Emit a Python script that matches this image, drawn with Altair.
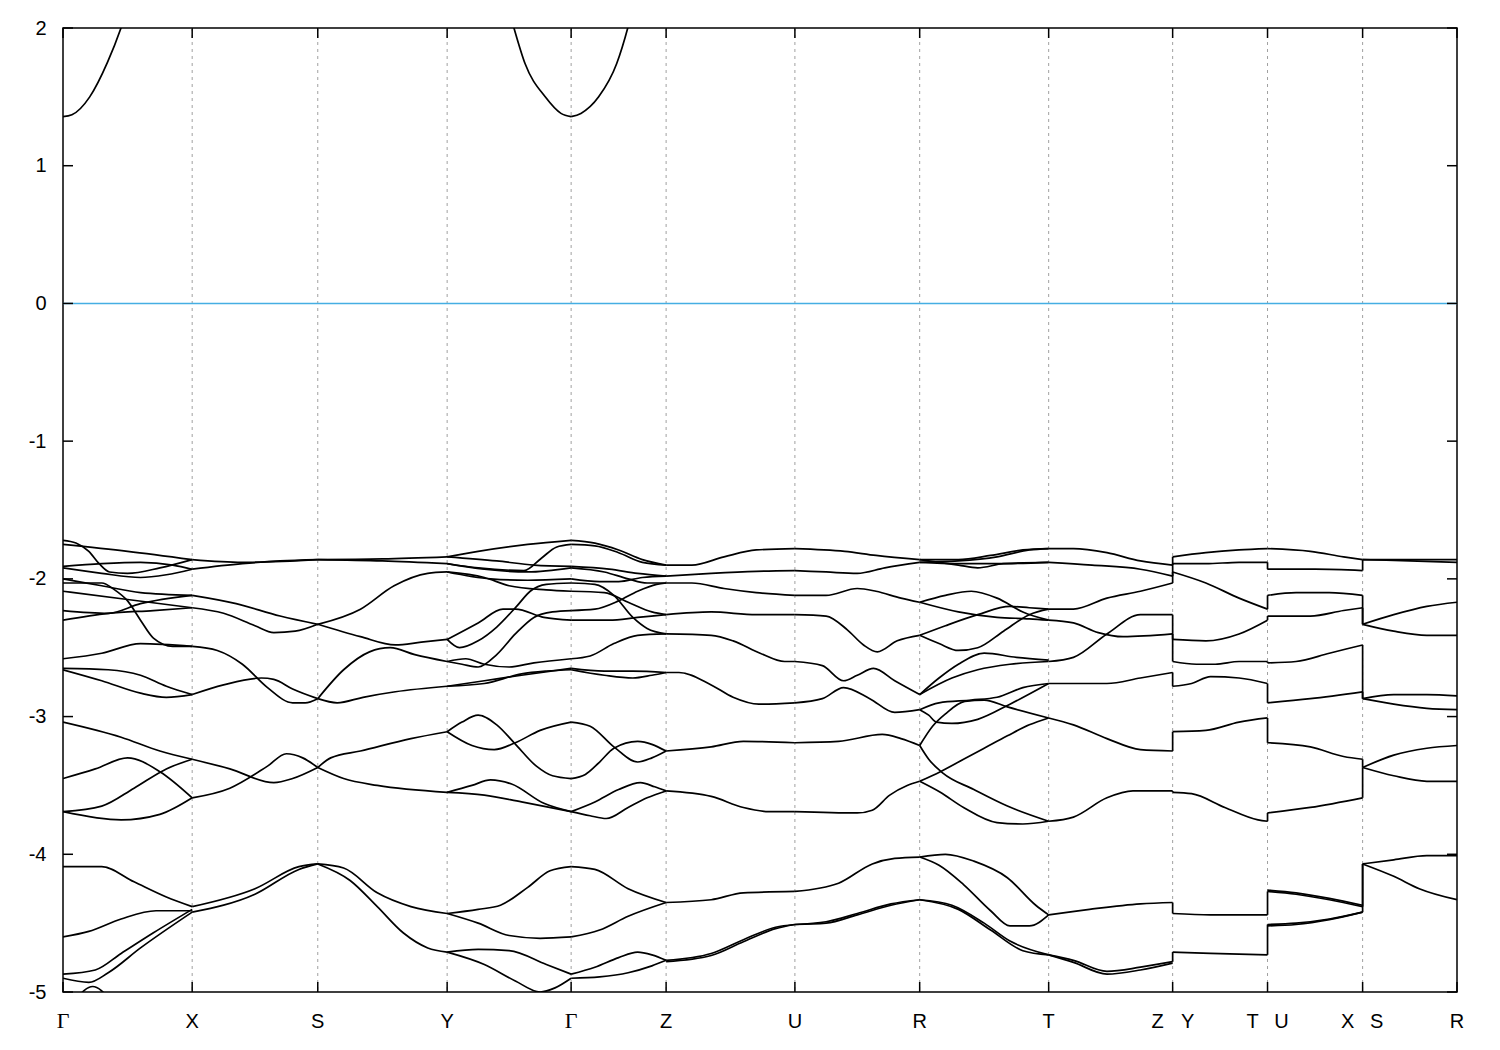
import altair as alt
import pandas as pd

# ---------------- data ----------------
# path distance of the high-symmetry points
kpos = [0.0, 129.2, 254.8, 384.2, 508.2, 603.2, 732.0, 856.8, 985.8, 1109.8, 1204.7, 1299.8, 1394.2]

# x tick labels (index into kpos) and horizontal nudge for paired labels
xlab_text = ["Γ", "X", "S", "Y", "Γ", "Z", "U", "R", "T", "Z", "Y", "T", "U", "X", "S", "R"]
xlab_kidx = [0, 1, 2, 3, 4, 5, 6, 7, 8, 9, 9, 10, 10, 11, 11, 12]
xlab_dx = [0, 0, 0, 0, 0, 0, 0, 0, 0, -15, 15, -15, 14, -15, 14, 0]

ytick_vals = [-5, -4, -3, -2, -1, 0, 1, 2]

# bands per segment: [t (fraction along segment), E (eV)]
seg_G_X = [
    [[0, -1.75], [0.5, -1.80], [1, -1.86]],
    [[0, -1.72], [0.1, -1.74], [0.2, -1.80], [0.28, -1.89], [0.36, -1.95], [0.5, -1.96], [0.75, -1.92], [1, -1.86]],
    [[0, -1.91], [0.3, -1.89], [0.6, -1.88], [0.85, -1.90], [1, -1.93]],
    [[0, -1.92], [0.3, -1.96], [0.6, -1.99], [0.8, -1.97], [1, -1.93]],
    [[0, -2.00], [0.3, -2.05], [0.6, -2.10], [1, -2.12]],
    [[0, -2.09], [0.5, -2.15], [1, -2.21]],
    [[0, -2.03], [0.3, -2.03], [0.4, -2.08], [0.5, -2.16], [0.6, -2.30], [0.7, -2.43], [0.85, -2.49], [1, -2.49]],
    [[0, -2.23], [0.35, -2.25], [0.6, -2.18], [1, -2.12]],
    [[0, -2.30], [0.35, -2.25], [0.7, -2.23], [1, -2.21]],
    [[0, -2.58], [0.3, -2.54], [0.6, -2.47], [1, -2.49]],
    [[0, -2.65], [0.35, -2.66], [0.6, -2.70], [0.8, -2.78], [1, -2.84]],
    [[0, -2.66], [0.3, -2.74], [0.6, -2.83], [0.8, -2.86], [1, -2.84]],
    [[0, -3.04], [0.45, -3.15], [0.75, -3.25], [1, -3.31]],
    [[0, -3.45], [0.25, -3.38], [0.5, -3.30], [0.75, -3.40], [1, -3.59]],
    [[0, -3.69], [0.3, -3.65], [0.55, -3.52], [0.8, -3.38], [1, -3.31]],
    [[0, -3.69], [0.45, -3.75], [0.75, -3.71], [1, -3.59]],
    [[0, -4.09], [0.3, -4.09], [0.55, -4.20], [0.8, -4.31], [1, -4.38]],
    [[0, -4.60], [0.2, -4.56], [0.45, -4.47], [0.72, -4.41], [1, -4.41]],
    [[0, -4.87], [0.25, -4.84], [0.45, -4.72], [0.7, -4.57], [1, -4.40]],
    [[0, -4.90], [0.2, -4.93], [0.35, -4.86], [0.6, -4.68], [1, -4.42]],
    [[0.1, -5.05], [0.23, -4.96], [0.36, -5.05]],
]
seg_X_S = [
    [[0, -1.86], [0.4, -1.88], [1, -1.86]],
    [[0, -1.93], [0.4, -1.89], [0.7, -1.87], [1, -1.86]],
    [[0, -2.12], [0.35, -2.18], [0.7, -2.27], [1, -2.33]],
    [[0, -2.21], [0.25, -2.25], [0.5, -2.34], [0.65, -2.39], [0.82, -2.38], [1, -2.33]],
    [[0, -2.49], [0.2, -2.52], [0.4, -2.62], [0.6, -2.79], [0.8, -2.90], [0.9, -2.90], [1, -2.87]],
    [[0, -2.84], [0.25, -2.77], [0.55, -2.72], [0.65, -2.73], [0.8, -2.80], [1, -2.87]],
    [[0, -3.31], [0.3, -3.38], [0.65, -3.48], [0.8, -3.45], [1, -3.37]],
    [[0, -3.59], [0.3, -3.52], [0.6, -3.36], [0.75, -3.27], [0.88, -3.30], [1, -3.37]],
    [[0, -4.38], [0.5, -4.25], [0.85, -4.09], [1, -4.07]],
    [[0, -4.42], [0.5, -4.29], [0.85, -4.11], [1, -4.07]],
]
seg_S_Y = [
    [[0, -1.86], [0.5, -1.855], [1, -1.84]],
    [[0, -1.86], [0.5, -1.87], [1, -1.89]],
    [[0, -2.33], [0.33, -2.22], [0.59, -2.05], [0.85, -1.96], [1, -1.95]],
    [[0, -2.33], [0.33, -2.42], [0.6, -2.48], [0.8, -2.46], [1, -2.44]],
    [[0, -2.87], [0.15, -2.90], [0.35, -2.86], [0.6, -2.82], [1, -2.78]],
    [[0, -2.87], [0.2, -2.66], [0.4, -2.53], [0.56, -2.50], [0.75, -2.55], [1, -2.60]],
    [[0, -3.37], [0.1, -3.30], [0.33, -3.25], [0.72, -3.16], [1, -3.11]],
    [[0, -3.37], [0.2, -3.45], [0.46, -3.50], [1, -3.55]],
    [[0, -4.07], [0.2, -4.10], [0.46, -4.28], [0.72, -4.38], [1, -4.43]],
    [[0, -4.07], [0.25, -4.19], [0.46, -4.38], [0.66, -4.57], [0.85, -4.68], [1, -4.71]],
]
seg_Y_G = [
    [[0, -1.84], [0.25, -1.80], [0.65, -1.75], [1, -1.72]],
    [[0, -1.84], [0.4, -1.87], [0.7, -1.90], [1, -1.91]],
    [[0, -1.89], [0.25, -1.92], [0.62, -1.94], [0.76, -1.85], [0.88, -1.77], [1, -1.75]],
    [[0, -1.89], [0.3, -1.93], [0.65, -1.95], [1, -1.92]],
    [[0, -1.95], [0.35, -2.00], [0.65, -2.01], [1, -2.00]],
    [[0, -1.95], [0.3, -1.99], [0.5, -2.05], [0.8, -2.08], [1, -2.09]],
    [[0, -2.44], [0.25, -2.32], [0.45, -2.22], [0.55, -2.22], [0.78, -2.28], [1, -2.30]],
    [[0, -2.44], [0.1, -2.50], [0.25, -2.45], [0.4, -2.35], [0.56, -2.20], [0.67, -2.09], [0.8, -2.04], [1, -2.03]],
    [[0, -2.60], [0.12, -2.62], [0.25, -2.64], [0.4, -2.55], [0.55, -2.40], [0.7, -2.28], [0.85, -2.24], [1, -2.23]],
    [[0, -2.60], [0.15, -2.58], [0.3, -2.62], [0.5, -2.64], [0.7, -2.61], [1, -2.58]],
    [[0, -2.78], [0.3, -2.74], [0.6, -2.70], [1, -2.65]],
    [[0, -2.78], [0.3, -2.76], [0.6, -2.69], [0.8, -2.67], [1, -2.66]],
    [[0, -3.11], [0.12, -3.04], [0.25, -2.99], [0.4, -3.06], [0.55, -3.20], [0.72, -3.36], [0.85, -3.43], [1, -3.45]],
    [[0, -3.11], [0.2, -3.21], [0.38, -3.24], [0.55, -3.19], [0.75, -3.10], [1, -3.04]],
    [[0, -3.55], [0.2, -3.50], [0.35, -3.46], [0.52, -3.49], [0.78, -3.63], [1, -3.69]],
    [[0, -3.55], [0.3, -3.57], [0.6, -3.62], [1, -3.69]],
    [[0, -4.43], [0.25, -4.40], [0.43, -4.37], [0.65, -4.24], [0.83, -4.12], [1, -4.09]],
    [[0, -4.43], [0.25, -4.50], [0.5, -4.59], [0.75, -4.61], [1, -4.60]],
    [[0, -4.71], [0.25, -4.69], [0.5, -4.70], [0.8, -4.80], [1, -4.87]],
    [[0, -4.71], [0.3, -4.80], [0.55, -4.92], [0.75, -5.00], [0.87, -4.97], [1, -4.90]],
]
seg_G_Z = [
    [[0, -1.72], [0.25, -1.74], [0.5, -1.79], [0.75, -1.86], [1, -1.90]],
    [[0, -1.75], [0.25, -1.76], [0.5, -1.81], [0.75, -1.88], [1, -1.90]],
    [[0, -1.91], [0.4, -1.93], [0.7, -1.96], [1, -1.98]],
    [[0, -2.00], [0.3, -2.02], [0.5, -2.02], [0.75, -1.99], [1, -1.98]],
    [[0, -1.92], [0.35, -1.95], [0.6, -2.00], [0.8, -2.03], [1, -2.03]],
    [[0, -2.23], [0.25, -2.22], [0.5, -2.16], [0.7, -2.09], [0.9, -2.04], [1, -2.03]],
    [[0, -2.03], [0.25, -2.04], [0.45, -2.12], [0.65, -2.28], [0.8, -2.36], [1, -2.40]],
    [[0, -2.09], [0.35, -2.10], [0.6, -2.17], [0.85, -2.24], [1, -2.26]],
    [[0, -2.30], [0.4, -2.30], [0.7, -2.28], [1, -2.26]],
    [[0, -2.58], [0.2, -2.56], [0.45, -2.47], [0.7, -2.41], [1, -2.40]],
    [[0, -2.65], [0.35, -2.67], [0.65, -2.67], [1, -2.68]],
    [[0, -2.66], [0.35, -2.70], [0.65, -2.72], [0.85, -2.70], [1, -2.68]],
    [[0, -3.04], [0.2, -3.07], [0.45, -3.22], [0.7, -3.33], [0.85, -3.30], [1, -3.25]],
    [[0, -3.45], [0.15, -3.42], [0.3, -3.33], [0.45, -3.23], [0.7, -3.18], [1, -3.25]],
    [[0, -3.69], [0.25, -3.62], [0.5, -3.53], [0.73, -3.48], [0.88, -3.51], [1, -3.54]],
    [[0, -3.69], [0.2, -3.72], [0.37, -3.74], [0.6, -3.66], [0.8, -3.59], [1, -3.54]],
    [[0, -4.09], [0.25, -4.11], [0.6, -4.25], [1, -4.35]],
    [[0, -4.60], [0.3, -4.55], [0.6, -4.45], [1, -4.35]],
    [[0, -4.87], [0.25, -4.82], [0.5, -4.75], [0.7, -4.71], [0.85, -4.73], [1, -4.77]],
    [[0, -4.90], [0.3, -4.89], [0.6, -4.86], [0.85, -4.81], [1, -4.77]],
]
seg_Z_U = [
    [[0, -1.90], [0.2, -1.90], [0.45, -1.84], [0.7, -1.79], [1, -1.78]],
    [[0, -1.98], [0.35, -1.96], [0.7, -1.945], [1, -1.94]],
    [[0, -2.03], [0.2, -2.03], [0.45, -2.07], [0.7, -2.10], [1, -2.12]],
    [[0, -2.26], [0.35, -2.24], [0.7, -2.26], [1, -2.26]],
    [[0, -2.40], [0.35, -2.41], [0.52, -2.45], [0.73, -2.54], [0.92, -2.60], [1, -2.60]],
    [[0, -2.68], [0.1, -2.68], [0.35, -2.77], [0.52, -2.86], [0.72, -2.91], [1, -2.90]],
    [[0, -3.25], [0.35, -3.22], [0.6, -3.18], [1, -3.19]],
    [[0, -3.54], [0.35, -3.58], [0.6, -3.66], [0.8, -3.69], [1, -3.69]],
    [[0, -4.35], [0.35, -4.33], [0.6, -4.28], [1, -4.27]],
    [[0, -4.77], [0.35, -4.72], [0.6, -4.62], [0.85, -4.53], [1, -4.51]],
    [[0, -4.78], [0.35, -4.735], [0.6, -4.635], [0.85, -4.54], [1, -4.51]],
]
seg_U_R = [
    [[0, -1.78], [0.4, -1.80], [0.65, -1.83], [1, -1.86]],
    [[0, -1.94], [0.25, -1.95], [0.5, -1.96], [0.72, -1.92], [1, -1.88]],
    [[0, -2.12], [0.25, -2.12], [0.5, -2.07], [0.65, -2.09], [0.85, -2.14], [1, -2.17]],
    [[0, -2.26], [0.25, -2.27], [0.42, -2.37], [0.55, -2.48], [0.66, -2.53], [0.82, -2.45], [1, -2.41]],
    [[0, -2.60], [0.22, -2.63], [0.39, -2.74], [0.5, -2.70], [0.63, -2.65], [0.8, -2.74], [1, -2.84]],
    [[0, -2.90], [0.22, -2.87], [0.39, -2.79], [0.6, -2.87], [0.8, -2.97], [1, -2.95]],
    [[0, -3.19], [0.35, -3.18], [0.7, -3.13], [0.85, -3.16], [1, -3.21]],
    [[0, -3.69], [0.5, -3.70], [0.62, -3.68], [0.76, -3.57], [0.9, -3.50], [1, -3.47]],
    [[0, -4.27], [0.35, -4.21], [0.62, -4.07], [0.8, -4.03], [1, -4.02]],
    [[0, -4.51], [0.25, -4.50], [0.5, -4.44], [0.77, -4.37], [1, -4.33]],
    [[0, -4.51], [0.25, -4.49], [0.5, -4.43], [0.77, -4.36], [1, -4.33]],
]
seg_R_T = [
    [[0, -1.86], [0.3, -1.86], [0.55, -1.83], [0.8, -1.79], [1, -1.78]],
    [[0, -1.86], [0.3, -1.90], [0.45, -1.92], [0.65, -1.89], [1, -1.88]],
    [[0, -1.88], [0.3, -1.87], [0.6, -1.84], [0.85, -1.79], [1, -1.78]],
    [[0, -1.88], [0.3, -1.89], [0.6, -1.89], [1, -1.88]],
    [[0, -2.17], [0.2, -2.12], [0.4, -2.09], [0.6, -2.14], [0.8, -2.24], [1, -2.30]],
    [[0, -2.17], [0.3, -2.24], [0.6, -2.28], [0.85, -2.29], [1, -2.30]],
    [[0, -2.41], [0.2, -2.34], [0.45, -2.26], [0.7, -2.20], [0.85, -2.21], [1, -2.22]],
    [[0, -2.41], [0.15, -2.47], [0.3, -2.52], [0.45, -2.50], [0.65, -2.38], [0.85, -2.26], [1, -2.22]],
    [[0, -2.84], [0.15, -2.72], [0.3, -2.62], [0.5, -2.54], [0.75, -2.57], [1, -2.59]],
    [[0, -2.84], [0.25, -2.72], [0.45, -2.66], [0.7, -2.62], [1, -2.60]],
    [[0, -2.95], [0.07, -2.99], [0.13, -3.04], [0.25, -3.05], [0.45, -3.02], [0.7, -2.91], [1, -2.76]],
    [[0, -2.95], [0.15, -2.90], [0.4, -2.88], [0.6, -2.86], [0.8, -2.79], [1, -2.76]],
    [[0, -3.21], [0.1, -3.07], [0.2, -2.98], [0.35, -2.89], [0.5, -2.88], [0.68, -2.93], [1, -3.01]],
    [[0, -3.21], [0.07, -3.31], [0.18, -3.41], [0.42, -3.53], [0.68, -3.65], [1, -3.76]],
    [[0, -3.47], [0.16, -3.40], [0.34, -3.31], [0.5, -3.23], [0.68, -3.14], [0.85, -3.06], [1, -3.01]],
    [[0, -3.47], [0.16, -3.55], [0.34, -3.66], [0.6, -3.77], [0.8, -3.78], [1, -3.76]],
    [[0, -4.02], [0.2, -4.00], [0.42, -4.05], [0.68, -4.17], [0.9, -4.37], [1, -4.44]],
    [[0, -4.02], [0.15, -4.08], [0.34, -4.22], [0.55, -4.41], [0.7, -4.52], [0.85, -4.52], [1, -4.44]],
    [[0, -4.33], [0.25, -4.37], [0.5, -4.50], [0.7, -4.63], [1, -4.73]],
    [[0, -4.33], [0.3, -4.40], [0.55, -4.55], [0.8, -4.70], [1, -4.73]],
]
seg_T_Z = [
    [[0, -1.78], [0.2, -1.78], [0.47, -1.81], [0.74, -1.87], [1, -1.90]],
    [[0, -1.88], [0.35, -1.90], [0.74, -1.93], [1, -1.98]],
    [[0, -2.22], [0.2, -2.22], [0.47, -2.14], [0.74, -2.09], [1, -2.03]],
    [[0, -2.30], [0.2, -2.32], [0.4, -2.39], [0.6, -2.42], [1, -2.40]],
    [[0, -2.60], [0.2, -2.57], [0.47, -2.40], [0.74, -2.26], [1, -2.26]],
    [[0, -2.76], [0.2, -2.76], [0.47, -2.76], [0.74, -2.72], [1, -2.68]],
    [[0, -3.01], [0.2, -3.06], [0.47, -3.16], [0.74, -3.24], [1, -3.25]],
    [[0, -3.76], [0.2, -3.73], [0.47, -3.59], [0.68, -3.54], [1, -3.54]],
    [[0, -4.44], [0.33, -4.40], [0.74, -4.36], [1, -4.35]],
    [[0, -4.73], [0.2, -4.77], [0.47, -4.85], [0.74, -4.82], [1, -4.78]],
    [[0, -4.73], [0.2, -4.785], [0.47, -4.87], [0.74, -4.84], [1, -4.79]],
]
seg_Y_T = [
    [[0, -1.84], [0.35, -1.81], [0.7, -1.79], [1, -1.78]],
    [[0, -1.89], [0.35, -1.89], [0.7, -1.88], [1, -1.88]],
    [[0, -1.95], [0.35, -2.03], [0.7, -2.14], [1, -2.22]],
    [[0, -2.44], [0.35, -2.45], [0.7, -2.40], [1, -2.30]],
    [[0, -2.60], [0.25, -2.62], [0.45, -2.62], [0.7, -2.60], [1, -2.60]],
    [[0, -2.78], [0.2, -2.76], [0.4, -2.71], [0.7, -2.72], [1, -2.76]],
    [[0, -3.11], [0.35, -3.10], [0.7, -3.04], [1, -3.01]],
    [[0, -3.55], [0.2, -3.56], [0.55, -3.66], [0.9, -3.75], [1, -3.76]],
    [[0, -4.43], [0.4, -4.44], [1, -4.44]],
    [[0, -4.71], [0.4, -4.72], [1, -4.73]],
]
seg_U_X = [
    [[0, -1.78], [0.45, -1.80], [0.8, -1.84], [1, -1.86]],
    [[0, -1.93], [0.5, -1.93], [1, -1.94]],
    [[0, -2.12], [0.3, -2.10], [0.65, -2.10], [1, -2.12]],
    [[0, -2.27], [0.45, -2.27], [0.8, -2.23], [1, -2.21]],
    [[0, -2.61], [0.3, -2.60], [0.65, -2.54], [1, -2.48]],
    [[0, -2.90], [0.45, -2.87], [1, -2.82]],
    [[0, -3.19], [0.45, -3.22], [0.8, -3.29], [1, -3.31]],
    [[0, -3.70], [0.45, -3.66], [1, -3.59]],
    [[0, -4.27], [0.3, -4.29], [0.65, -4.33], [1, -4.38]],
    [[0, -4.26], [0.3, -4.28], [0.65, -4.32], [1, -4.37]],
    [[0, -4.51], [0.3, -4.50], [0.65, -4.47], [1, -4.42]],
    [[0, -4.52], [0.3, -4.51], [0.65, -4.475], [1, -4.42]],
]
seg_S_R = [
    [[0, -1.86], [1, -1.86]],
    [[0, -1.86], [0.5, -1.87], [1, -1.88]],
    [[0, -2.33], [0.33, -2.26], [0.68, -2.20], [1, -2.17]],
    [[0, -2.33], [0.33, -2.38], [0.68, -2.41], [1, -2.41]],
    [[0, -2.87], [0.33, -2.84], [0.68, -2.84], [1, -2.85]],
    [[0, -2.87], [0.33, -2.91], [0.68, -2.94], [1, -2.95]],
    [[0, -3.37], [0.33, -3.28], [0.68, -3.23], [1, -3.21]],
    [[0, -3.37], [0.33, -3.43], [0.68, -3.47], [1, -3.47]],
    [[0, -4.07], [0.33, -4.04], [0.68, -4.01], [1, -4.01]],
    [[0, -4.07], [0.33, -4.16], [0.6, -4.25], [1, -4.33]],
]
# conduction band
cb_G_X = [[0, 1.356], [0.069, 1.37], [0.207, 1.50], [0.344, 1.75], [0.449, 2.0], [0.55, 2.3]]
cb_Y_G = [[0.45, 2.3], [0.539, 2.0], [0.629, 1.74], [0.791, 1.50], [0.918, 1.38], [1, 1.356]]
cb_G_Z = [[0, 1.356], [0.103, 1.38], [0.29, 1.50], [0.479, 1.74], [0.596, 2.0], [0.7, 2.3]]

# discontinuities: (energy before, energy after)
jump_ZY = [[-1.90, -1.84], [-1.98, -1.89], [-2.03, -1.95], [-2.26, -2.44], [-2.40, -2.60],
           [-2.68, -2.78], [-3.25, -3.11], [-3.54, -3.55], [-4.35, -4.43], [-4.78, -4.71]]
jump_TU = [[-1.88, -1.93], [-2.22, -2.12], [-2.30, -2.27], [-2.60, -2.61], [-2.76, -2.90],
           [-3.01, -3.19], [-3.76, -3.70], [-4.44, -4.27], [-4.73, -4.51]]
jump_XS = [[-1.94, -1.86], [-2.12, -2.33], [-2.21, -2.33], [-2.48, -2.87], [-2.82, -2.87],
           [-3.31, -3.37], [-3.59, -3.37], [-4.38, -4.07], [-4.42, -4.07]]

# ---------------- build tables ----------------
segments = [
    (0, 1, seg_G_X), (1, 2, seg_X_S), (2, 3, seg_S_Y), (3, 4, seg_Y_G), (4, 5, seg_G_Z),
    (5, 6, seg_Z_U), (6, 7, seg_U_R), (7, 8, seg_R_T), (8, 9, seg_T_Z), (9, 10, seg_Y_T),
    (10, 11, seg_U_X), (11, 12, seg_S_R),
    (0, 1, [cb_G_X]), (3, 4, [cb_Y_G]), (4, 5, [cb_G_Z]),
]
rows = []
for si, (a, b, curves) in enumerate(segments):
    for ci, c in enumerate(curves):
        for oi, (t, e) in enumerate(c):
            rows.append({"band": f"s{si}c{ci}", "k": kpos[a] + t * (kpos[b] - kpos[a]), "E": e, "o": oi})
bands_df = pd.DataFrame(rows)

jrows = []
for ki, jl in [(9, jump_ZY), (10, jump_TU), (11, jump_XS)]:
    for ji, (e0, e1) in enumerate(jl):
        jrows.append({"band": f"j{ki}_{ji}", "k": kpos[ki], "E": e0, "o": 0})
        jrows.append({"band": f"j{ki}_{ji}", "k": kpos[ki], "E": e1, "o": 1})
jumps_df = pd.DataFrame(jrows)

lab_df = pd.DataFrame({"text": xlab_text, "k": [kpos[i] for i in xlab_kidx], "dx": xlab_dx})
kp_df = pd.DataFrame({"k": kpos})
grid_df = pd.DataFrame({"k": kpos[1:-1]})
yt_df = pd.DataFrame({"E": ytick_vals})
fermi_df = pd.DataFrame({"E": [0]})

W, H = 1394, 964
LW = 1.7
xsc = alt.Scale(domain=[kpos[0], kpos[-1]], nice=False, zero=False)
ysc = alt.Scale(domain=[-5, 2], nice=False, zero=False)
yax = alt.Axis(values=ytick_vals, ticks=False, domain=False, grid=False, title=None,
               labelFont="Liberation Sans", labelFontSize=20, labelColor="black",
               labelPadding=17, labelExpr="'' + datum.value")
X = lambda: alt.X("k:Q", scale=xsc, axis=None)
Y = lambda: alt.Y("E:Q", scale=ysc, axis=yax)

grid = alt.Chart(grid_df).mark_rule(color="#a0a0a0", strokeWidth=1, strokeDash=[3, 4]).encode(x=X())
fermi = alt.Chart(fermi_df).mark_rule(color="#45aee3", strokeWidth=1.6).encode(y=Y())
lines = alt.Chart(bands_df).mark_line(color="black", strokeWidth=LW, interpolate="monotone", clip=True).encode(
    x=X(), y=Y(), detail="band:N", order="o:Q")
jumps = alt.Chart(jumps_df).mark_line(color="black", strokeWidth=LW).encode(
    x=X(), y=Y(), detail="band:N", order="o:Q")
tick_top = alt.Chart(kp_df).mark_rule(color="black", strokeWidth=1.5).encode(
    x=X(), y=alt.value(0), y2=alt.value(10))
tick_bot = alt.Chart(kp_df).mark_rule(color="black", strokeWidth=1.5).encode(
    x=X(), y=alt.value(H - 10), y2=alt.value(H))
tick_l = alt.Chart(yt_df).mark_rule(color="black", strokeWidth=1.5).encode(
    y=Y(), x=alt.value(0), x2=alt.value(10))
tick_r = alt.Chart(yt_df).mark_rule(color="black", strokeWidth=1.5).encode(
    y=Y(), x=alt.value(W - 10), x2=alt.value(W))

label_layers = []
for dxv in sorted(set(xlab_dx)):
    sub = lab_df[lab_df["dx"] == dxv]
    for greek in (False, True):
        part = sub[(sub["text"] == "Γ") == greek]
        if len(part) == 0:
            continue
        label_layers.append(
            alt.Chart(part).mark_text(
                font="Liberation Serif" if greek else "Liberation Sans",
                fontSize=22 if greek else 20, color="black",
                baseline="alphabetic", align="center", dx=dxv).encode(
                x=X(), y=alt.value(H + 36), text="text:N"))

chart = alt.layer(grid, fermi, lines, jumps, tick_top, tick_bot, tick_l, tick_r, *label_layers).properties(
    width=W, height=H,
    autosize=alt.AutoSizeParams(type="none"),
    padding={"left": 55, "top": 20, "right": 30, "bottom": 40},
).configure_view(stroke="black", strokeWidth=1.5)

chart.save("out.html", embed_options={"renderer": "svg", "actions": False})
